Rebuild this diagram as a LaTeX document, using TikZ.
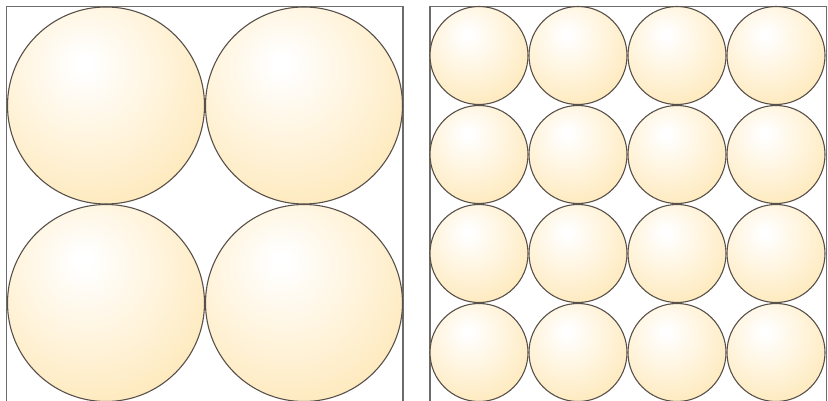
\documentclass[tikz,border=0pt]{standalone}
\definecolor{ballc}{RGB}{254,228,172}
\definecolor{ballline}{RGB}{88,80,74}
\definecolor{boxline}{RGB}{110,108,106}
\pgfdeclareradialshading{ball}{\pgfpoint{-6bp}{11bp}}{color(0bp)=(white); color(2bp)=(white); color(42bp)=(ballc); color(100bp)=(ballc)}
\begin{document}
\begin{tikzpicture}[x=1pt,y=-1pt,
  ballbig/.style={circle,draw=ballline,line width=1.1pt,shading=ball,minimum size=197pt,inner sep=0pt},
  ballsmall/.style={circle,draw=ballline,line width=1.1pt,shading=ball,minimum size=98pt,inner sep=0pt},
  frame/.style={draw=boxline,line width=1.3pt}]
\useasboundingbox (0,0) rectangle (828,401);
\clip (0,0) rectangle (828,401);
\draw[frame] (6.5,6.5) rectangle (403,403);
\draw[frame] (430,6.5) rectangle (826.5,403);
\node[ballbig] (b11) at (106,105.5) {};
\node[ballbig] (b12) at (304,105.5) {};
\node[ballbig] (b21) at (106,303) {};
\node[ballbig] (b22) at (304,303) {};
\foreach \r [count=\i] in {55.5,154.5,253.5,352.5}{
  \foreach \c [count=\j] in {479,578,677,776}{
    \node[ballsmall] (s\i\j) at (\c,\r) {};
  }
}
\end{tikzpicture}
\end{document}
